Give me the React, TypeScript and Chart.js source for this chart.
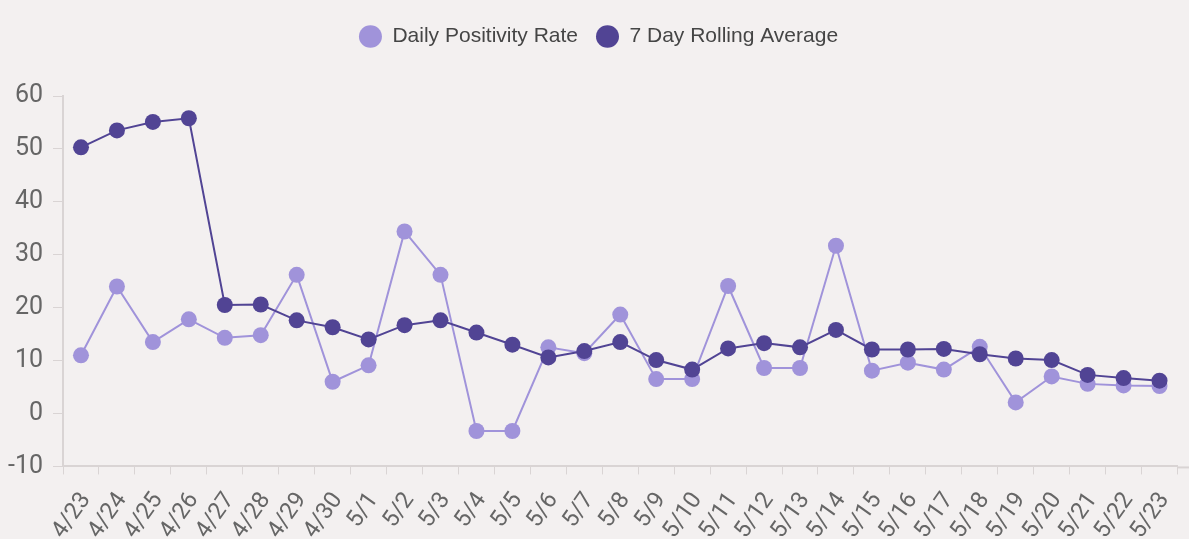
import { useEffect, useRef } from 'react';
import { Chart, registerables } from 'chart.js';

Chart.register(...registerables);

const dateLabels = [
  '4/23', '4/24', '4/25', '4/26', '4/27', '4/28', '4/29', '4/30',
  '5/1', '5/2', '5/3', '5/4', '5/5', '5/6', '5/7', '5/8', '5/9', '5/10',
  '5/11', '5/12', '5/13', '5/14', '5/15', '5/16', '5/17', '5/18', '5/19',
  '5/20', '5/21', '5/22', '5/23',
];

const dailyPositivityRate = [
  11, 24, 13.5, 17.8, 14.3, 14.8, 26.2, 6, 9.1, 34.4, 26.2, -3.3, -3.3,
  12.5, 11.4, 18.7, 6.5, 6.5, 24.1, 8.6, 8.6, 31.7, 8.1, 9.6, 8.3, 12.6,
  2.1, 7, 5.6, 5.3, 5.2,
];

const sevenDayRollingAverage = [
  50.3, 53.5, 55.1, 55.8, 20.5, 20.6, 17.6, 16.3, 14, 16.7, 17.6, 15.3,
  13, 10.6, 11.8, 13.5, 10.1, 8.3, 12.3, 13.3, 12.5, 15.8, 12.1, 12.1,
  12.2, 11.2, 10.4, 10.1, 7.3, 6.7, 6.2,
];

const yMin = -10;
const yMax = 60;
const yStep = 10;

const DAILY_COLOR = '#a093da';
const ROLLING_COLOR = '#514494';
const AXIS_COLOR = '#d9d4d4';
const BG = '#f3f0f0';

const legendSpacing = {
  id: 'legendSpacing',
  beforeInit(chart: any) {
    const legend = chart.legend;
    if (!legend) return;
    const fit = legend.fit;
    legend.fit = function () {
      fit.call(this);
      this.height += 39;
    };
  },
};

// continue the x-axis line to the right edge of the canvas
const axisExtension = {
  id: 'axisExtension',
  afterDraw(chart: any) {
    const { ctx, chartArea, width } = chart;
    ctx.save();
    ctx.strokeStyle = AXIS_COLOR;
    ctx.lineWidth = 2;
    ctx.beginPath();
    ctx.moveTo(chartArea.right, chartArea.bottom + 1);
    ctx.lineTo(width, chartArea.bottom + 1);
    ctx.stroke();
    ctx.restore();
  },
};

export default function App() {
  const ref = useRef<HTMLCanvasElement | null>(null);

  useEffect(() => {
    if (!ref.current) return;
    const chart = new Chart(ref.current, {
      type: 'line',
      data: {
        labels: dateLabels,
        datasets: [
          {
            label: 'Daily Positivity Rate',
            data: dailyPositivityRate,
            borderColor: DAILY_COLOR,
            backgroundColor: DAILY_COLOR,
            pointBackgroundColor: DAILY_COLOR,
            pointBorderColor: DAILY_COLOR,
            borderWidth: 2,
            pointRadius: 8,
            pointBorderWidth: 0,
            tension: 0,
            order: 1,
          },
          {
            label: '7 Day Rolling Average',
            data: sevenDayRollingAverage,
            borderColor: ROLLING_COLOR,
            backgroundColor: ROLLING_COLOR,
            pointBackgroundColor: ROLLING_COLOR,
            pointBorderColor: ROLLING_COLOR,
            borderWidth: 2,
            pointRadius: 8,
            pointBorderWidth: 0,
            tension: 0,
            order: 0,
          },
        ],
      },
      options: {
        animation: false,
        responsive: true,
        maintainAspectRatio: false,
        layout: { padding: { top: 0, left: 0, right: 0, bottom: 0 } },
        plugins: {
          legend: {
            position: 'top',
            labels: {
              usePointStyle: true,
              pointStyle: 'circle',
              boxHeight: 16,
              pointStyleWidth: 23,
              padding: 18,
              color: '#454545',
              font: { family: "'Liberation Sans', Arial, sans-serif", size: 21 },
              sort: (a: any, b: any) => a.datasetIndex - b.datasetIndex,
            },
          },
          tooltip: { enabled: false },
        },
        scales: {
          x: {
            offset: true,
            afterFit: (scale: any) => {
              scale.paddingLeft = 0;
              scale.paddingRight = 11.5;
            },
            grid: {
              display: true,
              drawOnChartArea: false,
              drawTicks: true,
              tickLength: 8,
              color: AXIS_COLOR,
              offset: true,
            },
            border: { display: true, color: AXIS_COLOR, width: 2 },
            ticks: {
              autoSkip: false,
              minRotation: 55,
              maxRotation: 55,
              padding: 13,
              labelOffset: 5,
              color: '#666666',
              font: { family: 'Roboto', size: 23.5 },
            },
          },
          y: {
            min: yMin,
            max: yMax,
            afterFit: (scale: any) => {
              scale.width -= 10;
            },
            grid: {
              display: true,
              drawOnChartArea: false,
              drawTicks: true,
              tickLength: 10,
              color: AXIS_COLOR,
            },
            border: { display: true, color: AXIS_COLOR, width: 2 },
            ticks: {
              stepSize: yStep,
              padding: 10,
              color: '#666666',
              font: { family: 'Roboto', size: 25 },
            },
          },
        },
      },
      plugins: [legendSpacing, axisExtension],
    });
    return () => chart.destroy();
  }, []);

  return (
    <div style={{ position: 'fixed', inset: 0, background: BG, overflow: 'hidden' }}>
      <div style={{ position: 'absolute', left: 8, top: 8, width: 1181, height: 549 }}>
        <canvas ref={ref} />
      </div>
    </div>
  );
}
